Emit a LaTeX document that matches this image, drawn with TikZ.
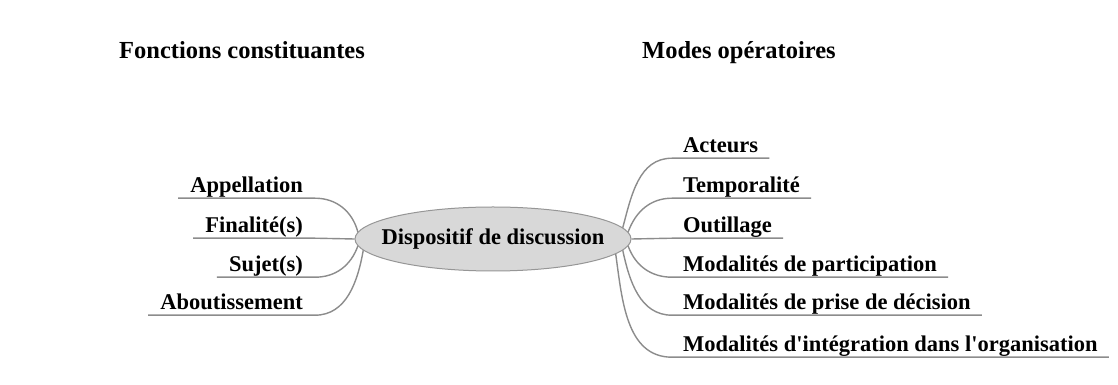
\documentclass[tikz,border=0pt]{standalone}
\usepackage{fontspec}
\setmainfont{Liberation Serif}
\usetikzlibrary{shapes.geometric}
\definecolor{linegray}{RGB}{140,140,140}
\definecolor{ovalfill}{RGB}{216,216,216}
\definecolor{ovaldraw}{RGB}{150,150,150}

\begin{document}
\begin{tikzpicture}[x=1pt,y=1pt,
	title/.style={anchor=base west, inner sep=0pt, font=\fontsize{24.5}{28}\selectfont\bfseries},
	leftlab/.style={anchor=base east, inner xsep=12pt, inner ysep=0pt, text height=16pt, text depth=5pt, font=\fontsize{22.5}{26}\selectfont\bfseries},
	rightlab/.style={leftlab, anchor=base west, inner xsep=11pt},
	oval/.style={shape=ellipse, draw=ovaldraw, fill=ovalfill, line width=1pt, minimum width=276pt, minimum height=64pt, inner sep=0pt},
	ovaltext/.style={font=\fontsize{22.5}{26}\selectfont\bfseries, inner sep=0pt},
	branch/.style={draw=linegray, line width=1.4pt}]
	
	\useasboundingbox[fill=white] (0,0) rectangle (1118,385);
	
	\node[title] (fonctions) at (119, 326) {Fonctions constituantes};
	\node[title] (modes)     at (642, 326) {Modes opératoires};
	
	\node[oval, label={[ovaltext]center:Dispositif de discussion}] (disp) at (493, 146) {};
	
	% fonctions constituantes
	\node[leftlab] (appellation)   at (315, 192) {Appellation};
	\node[leftlab] (finalite)      at (315, 152) {Finalité(s)};
	\node[leftlab] (sujet)         at (315, 113) {Sujet(s)};
	\node[leftlab] (aboutissement) at (315,  75) {Aboutissement};
	
	% modes operatoires
	\node[rightlab] (acteurs)       at (672, 232) {Acteurs};
	\node[rightlab] (temporalite)   at (672, 192) {Temporalité};
	\node[rightlab] (outillage)     at (672, 152) {Outillage};
	\node[rightlab] (participation) at (672, 113) {Modalités de participation};
	\node[rightlab] (decision)      at (672,  75) {Modalités de prise de décision};
	\node[rightlab] (integration)   at (672,  33) {Modalités d\textquotesingle intégration dans l\textquotesingle organisation};
	
	\draw[branch] (disp.177) to[out=105, in=0] (appellation.south east) -- (appellation.south west);
	\draw[branch] (disp.180) -- (finalite.south east) -- (finalite.south west);
	\draw[branch] (disp.183) to[out=250, in=0] (sujet.south east) -- (sujet.south west);
	\draw[branch] (disp.185) to[out=260, in=0] (aboutissement.south east) -- (aboutissement.south west);
	
	\draw[branch] (disp.5)    to[out=75, in=180]  (acteurs.south west) -- (acteurs.south east);
	\draw[branch] (disp.3.5)  to[out=70, in=180]  (temporalite.south west) -- (temporalite.south east);
	\draw[branch] (disp.0)    -- (outillage.south west) -- (outillage.south east);
	\draw[branch] (disp.-3.5) to[out=-70, in=180] (participation.south west) -- (participation.south east);
	\draw[branch] (disp.-5.5) to[out=-78, in=180] (decision.south west) -- (decision.south east);
	\draw[branch] (disp.-7.5) to[out=-82, in=180] (integration.south west) -- (integration.south east);
	
\end{tikzpicture}
\end{document}
